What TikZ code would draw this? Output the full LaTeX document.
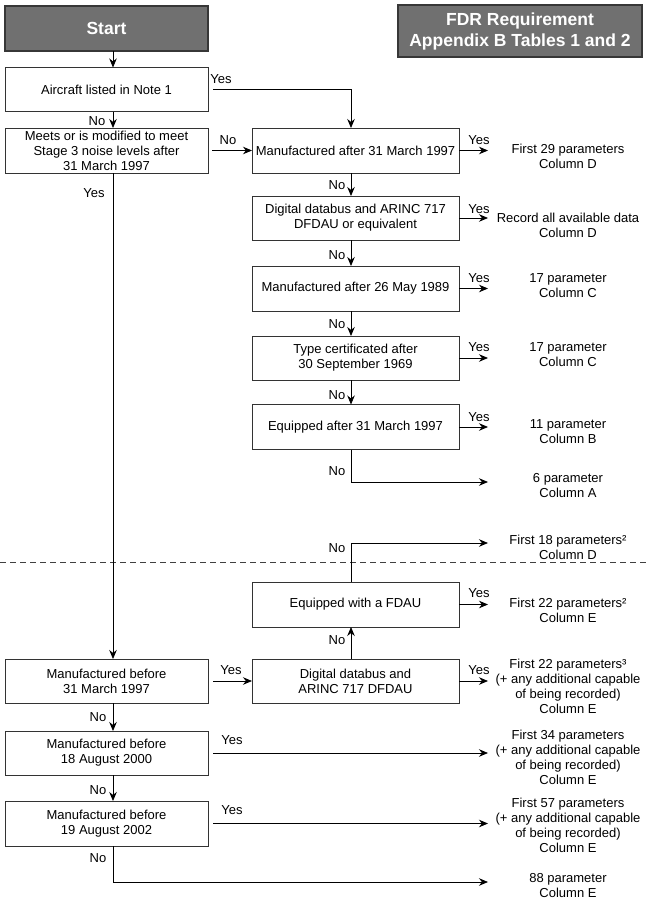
\documentclass[tikz,border=0pt]{standalone}
\usepackage{fontspec}
\setmainfont{Liberation Sans}
\usetikzlibrary{arrows.meta}
\definecolor{headgray}{RGB}{112,112,112}
\definecolor{headedge}{RGB}{55,55,55}
\begin{document}
\begin{tikzpicture}[x=1pt,y=-1pt,
  every node/.style={font=\fontsize{13}{15}\selectfont, inner sep=0pt, outer sep=0pt},
  box/.style={draw=black!80, line width=0.8pt, fill=white, minimum height=44pt, align=center},
  lbox/.style={box, minimum width=203pt},
  cbox/.style={box, minimum width=207pt},
  headbox/.style={draw=headedge, line width=1.3pt, fill=headgray, text=white, font=\bfseries\fontsize{17.5}{21}\selectfont, align=center},
  res/.style={align=center},
  arr/.style={line width=0.8pt, -{Stealth[length=9pt,width=7.5pt]}},
  sep/.style={line width=0.9pt, black!75, dash pattern=on 6pt off 4pt}
]
\useasboundingbox (0,0) rectangle (650,905);

% header boxes
\node[headbox, minimum width=203pt, minimum height=45pt] (start) at (106.5,28.5) {Start};
\node[headbox, minimum width=244pt, minimum height=52pt] (fdr) at (520,31) {FDR Requirement\\Appendix B Tables 1 and 2};

% left column
\node[lbox] (air) at (106.5,89.5) {Aircraft listed in Note 1};
\node[lbox, minimum height=45pt] (meets) at (106.5,150.5) {Meets or is modified to meet\\Stage 3 noise levels after\\31 March 1997};
\node[lbox] (mb97) at (106.5,681) {Manufactured before\\31 March 1997};
\node[lbox] (mb00) at (106.5,753) {Manufactured before\\18 August 2000};
\node[lbox, minimum height=45pt] (mb02) at (106.5,823.5) {Manufactured before\\19 August 2002};

% centre column
\node[cbox, minimum height=45pt] (mfa) at (355.5,150.5) {Manufactured after 31 March 1997};
\node[cbox] (dig1) at (355.5,218) {Digital databus and ARINC 717\\DFDAU or equivalent};
\node[cbox, minimum height=45pt] (m89) at (355.5,288.5) {Manufactured after 26 May 1989};
\node[cbox] (tc69) at (355.5,358) {Type certificated after\\30 September 1969};
\node[cbox, minimum height=45pt] (eq97) at (355.5,427) {Equipped after 31 March 1997};
\node[cbox, minimum height=45pt] (fdau) at (355.5,604.5) {Equipped with a FDAU};
\node[cbox] (dig2) at (355.5,681) {Digital databus and\\ARINC 717 DFDAU};

% results
\node[res] (r1) at (568,156) {First 29 parameters\\Column D};
\node[res] (r2) at (568,225) {Record all available data\\Column D};
\node[res] (r3) at (568,286) {17 parameter\\Column C};
\node[res] (r4) at (568,355) {17 parameter\\Column C};
\node[res] (r5) at (568,432) {11 parameter\\Column B};
\node[res] (r6) at (568,486) {6 parameter\\Column A};
\node[res] (r7) at (568,547) {First 18 parameters²\\Column D};
\node[res] (r8) at (568,610) {First 22 parameters²\\Column E};
\node[res] (r9) at (568,686) {First 22 parameters³\\(+ any additional capable\\of being recorded)\\Column E};
\node[res] (r10) at (568,757) {First 34 parameters\\(+ any additional capable\\of being recorded)\\Column E};
\node[res] (r11) at (568,825) {First 57 parameters\\(+ any additional capable\\of being recorded)\\Column E};
\node[res] (r12) at (568,886) {88 parameter\\Column E};

% separator
\draw[sep] (0,562) -- (650,562);

% reference coordinates
\coordinate (lx) at (113,0);
\coordinate (cx) at (351,0);
\coordinate (tx) at (488,0);
\coordinate (t6) at (488,482);
\coordinate (t7) at (488,543);
\coordinate (t12) at (488,882);

% connectors
\draw[arr] (start.south -| lx) -- (air.north -| lx);
\draw[arr] ([xshift=5pt]air.east) -| (mfa.north -| cx);
\draw[arr] (air.south -| lx) -- (meets.north -| lx);
\draw[arr] ([xshift=4pt]meets.east) -- (mfa.west);
\draw[arr] (meets.south -| lx) -- (mb97.north -| lx);
\draw[arr] (mfa.east) -- (tx |- mfa.east);
\draw[arr] (mfa.south -| cx) -- (dig1.north -| cx);
\draw[arr] (dig1.east) -- (tx |- dig1.east);
\draw[arr] (dig1.south -| cx) -- (m89.north -| cx);
\draw[arr] (m89.east) -- (tx |- m89.east);
\draw[arr] (m89.south -| cx) -- (tc69.north -| cx);
\draw[arr] (tc69.east) -- (tx |- tc69.east);
\draw[arr] (tc69.south -| cx) -- (eq97.north -| cx);
\draw[arr] (eq97.east) -- (tx |- eq97.east);
\draw[arr] (eq97.south -| cx) |- (t6);
\draw[arr] (fdau.north -| cx) |- (t7);
\draw[arr] (fdau.east) -- (tx |- fdau.east);
\draw[arr] (dig2.north -| cx) -- (fdau.south -| cx);
\draw[arr] ([xshift=5pt]mb97.east) -- (dig2.west);
\draw[arr] (dig2.east) -- (tx |- dig2.east);
\draw[arr] (mb97.south -| lx) -- (mb00.north -| lx);
\draw[arr] ([xshift=5pt]mb00.east) -- (tx |- mb00.east);
\draw[arr] (mb00.south -| lx) -- (mb02.north -| lx);
\draw[arr] ([xshift=5pt]mb02.east) -- (tx |- mb02.east);
\draw[arr] (mb02.south -| lx) |- (t12);

% labels
\node (y1) at (221,79) {Yes};
\node (n1) at (97,121) {No};
\node (n2) at (228,140) {No};
\node (y2) at (94,193) {Yes};
\node (y3) at (479,140) {Yes};
\node (n3) at (337,185) {No};
\node (y4) at (479,209) {Yes};
\node (n4) at (337,255) {No};
\node (y5) at (479,278) {Yes};
\node (n5) at (337,324) {No};
\node (y6) at (479,347) {Yes};
\node (n6) at (337,395) {No};
\node (y7) at (479,417) {Yes};
\node (n7) at (337,471) {No};
\node (n8) at (337,548) {No};
\node (y8) at (479,593) {Yes};
\node (n9) at (337,640) {No};
\node (y9) at (231,670) {Yes};
\node (y10) at (479,670) {Yes};
\node (n10) at (98,717) {No};
\node (y11) at (232,740) {Yes};
\node (n11) at (98,790) {No};
\node (y12) at (232,810) {Yes};
\node (n12) at (98,858) {No};
\end{tikzpicture}
\end{document}
